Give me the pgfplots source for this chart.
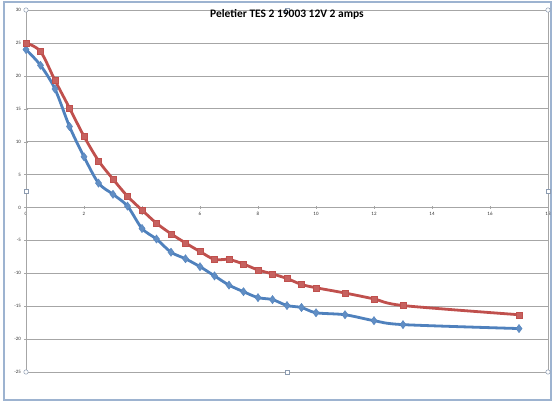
\documentclass[border=0pt]{standalone}
\usepackage{fontspec}
\setmainfont{Carlito}
\usepackage{pgfplots}
\usepackage{pgfplotstable}
\pgfplotsset{compat=1.18}

\definecolor{exred}{HTML}{C0504D}
\definecolor{exblue}{HTML}{4F81BD}
\definecolor{gridgray}{HTML}{A6A6A6}
\definecolor{framecol}{HTML}{9DB3D0}
\definecolor{handle}{HTML}{8C9BB0}

% temperature readings
\pgfplotstableread{
x    red    blue
0    25.0   24.0
0.5  23.7   21.6
1    19.3   18.0
1.5  15.1   12.3
2    10.8    7.7
2.5   7.1    3.7
3     4.3    2.0
3.5   1.7    0.2
4    -0.4   -3.2
4.5  -2.4   -4.8
5    -4.0   -6.8
5.5  -5.4   -7.8
6    -6.7   -9.0
6.5  -7.9  -10.4
7    -7.9  -11.8
7.5  -8.6  -12.8
8    -9.5  -13.7
8.5 -10.1  -14.0
9   -10.8  -14.9
9.5 -11.7  -15.2
10  -12.2  -16.0
11  -13.0  -16.3
12  -13.9  -17.2
13  -14.9  -17.8
17  -16.3  -18.4
}\peltier

\tikzset{hc/.style={handle, fill=white, line width=0.5bp},
         hs/.style={handle, fill=white, line width=0.5bp, minimum size=4bp, inner sep=0pt, draw, rectangle}}

\begin{document}
\begin{tikzpicture}
\useasboundingbox (-26bp,-33bp) rectangle (534bp,372bp);
\fill[white] (-26bp,-33bp) rectangle (534bp,372bp);
\draw[framecol, line width=1.5bp] (-22bp,-28bp) rectangle (525bp,370bp);
\begin{axis}[
    scale only axis,
    width=522bp,
    height=362bp,
    xmin=0, xmax=18,
    ymin=-25, ymax=30,
    axis x line=middle,
    axis y line=left,
    axis line style={gridgray, -},
    hide obscured x ticks=false,
    hide obscured y ticks=false,
    xtick={0,2,...,18},
    ytick={-25,-20,...,30},
    ymajorgrids,
    grid style={gridgray, line width=0.6bp},
    tick style={gridgray},
    major tick length=3bp,
    tick align=center,
    tick label style={font=\fontsize{5}{6}\selectfont, text=black!80},
    /pgf/number format/assume math mode=true,
    title={\bfseries Peletier TES 2 19003 12V 2 amps},
    title style={at={(0.5,1)}, anchor=center, yshift=-10bp, font=\fontsize{11.5}{13}\selectfont},
    clip=false,
]
\draw[gridgray, line width=0.6bp] (rel axis cs:0,0) rectangle (rel axis cs:1,1);
\addplot[exblue, line width=2.8bp, smooth, mark=diamond*,
    mark size=4.2pt, mark options={fill=exblue!90!white, draw=exblue, line width=0.3pt}]
    table[x=x, y=blue] {\peltier};
\addplot[exred, line width=2.8bp, smooth, mark=square*,
    mark size=3pt, mark options={fill=exred!90!white, draw=exred, line width=0.3pt}]
    table[x=x, y=red] {\peltier};
% selection handles of the plot area
\draw[hc] (rel axis cs:0,0) circle (2.2bp);
\draw[hc] (rel axis cs:1,0) circle (2.2bp);
\draw[hc] (rel axis cs:0,1) circle (2.2bp);
\draw[hc] (rel axis cs:1,1) circle (2.2bp);
\node[hs] at (rel axis cs:0.5,0) {};
\node[hs] at (rel axis cs:0.5,1) {};
\node[hs] at (rel axis cs:0,0.5) {};
\node[hs] at (rel axis cs:1,0.5) {};
\end{axis}
\end{tikzpicture}
\end{document}
